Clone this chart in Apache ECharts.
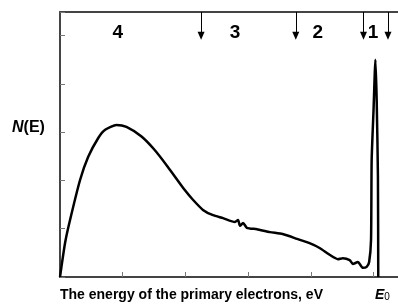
<!DOCTYPE html>
<html>
<head>
<meta charset="utf-8">
<script src="https://cdn.jsdelivr.net/npm/echarts@6/dist/echarts.min.js"></script>
<style>
  html, body { margin: 0; padding: 0; background: #fff; }
  #chart { width: 398px; height: 305px; }
</style>
</head>
<body>
<div id="chart"></div>
<script>
// energy (arbitrary units, tick = 100) and N(E)
var energy = [0, 8, 16, 32, 45, 61, 72, 90, 106, 130, 151, 172, 199, 212, 228, 244, 260, 279, 284, 287, 292, 298, 314, 335, 355, 378, 398, 414, 430, 443, 451, 462, 467, 475, 483, 489, 493, 496, 497, 500, 503, 505, 507, 507.5];
var counts = [0, 0.70, 1.18, 2.01, 2.49, 2.88, 3.05, 3.15, 3.11, 2.91, 2.63, 2.28, 1.80, 1.60, 1.39, 1.28, 1.22, 1.14, 1.18, 1.06, 1.12, 1.02, 0.99, 0.93, 0.89, 0.79, 0.70, 0.60, 0.46, 0.37, 0.39, 0.35, 0.27, 0.31, 0.19, 0.21, 0.31, 0.77, 2.42, 3.46, 4.50, 3.67, 2.08, 0];

// region boundaries (arrows from the top edge) and region labels
var arrowAt = [225, 376, 484, 523];
var regionNames = ['4', '3', '2', '1'];
var regionX = [92, 279, 411, 499];

var myChart = echarts.init(document.getElementById('chart'));

var curve = energy.map(function (e, i) { return [e, counts[i]]; });
var arrows = arrowAt.map(function (x) {
    return [{coord: [x, 5.49]}, {coord: [x, 5.0]}];
});
var labels = regionX.map(function (x, i) {
    return {value: [x, 5.07], name: regionNames[i]};
});

option = {
    backgroundColor: '#fff',
    animation: false,
    grid: {left: 60, right: 0, top: 12, bottom: 28},
    xAxis: [
        {
            type: 'value', min: 0, max: 539, interval: 100,
            axisLine: {lineStyle: {color: '#444', width: 2}},
            axisTick: {inside: true, length: 5, lineStyle: {color: '#777'}},
            axisLabel: {show: false},
            splitLine: {show: false}
        },
        {
            type: 'value', position: 'top', min: 0, max: 539,
            axisLine: {show: true, lineStyle: {color: '#444', width: 2}},
            axisTick: {show: false},
            axisLabel: {show: false},
            splitLine: {show: false}
        }
    ],
    yAxis: {
        type: 'value', min: 0, max: 5.49, interval: 1,
        axisLine: {show: true, lineStyle: {color: '#444', width: 2}},
        axisTick: {show: true, inside: true, length: 5, lineStyle: {color: '#777'}},
        axisLabel: {show: false},
        splitLine: {show: false}
    },
    series: [
        {
            type: 'line',
            data: curve,
            smooth: 0.2,
            showSymbol: false,
            lineStyle: {color: '#000', width: 2.5},
            markLine: {
                silent: true,
                symbol: ['none', 'triangle'],
                symbolSize: [7, 8],
                label: {show: false},
                lineStyle: {color: '#000', width: 1, type: 'solid'},
                data: arrows
            }
        },
        {
            type: 'scatter',
            data: labels,
            symbolSize: 0,
            silent: true,
            itemStyle: {opacity: 1},
            label: {
                show: true,
                position: 'inside',
                formatter: '{b}',
                color: '#000',
                textBorderWidth: 0,
                fontSize: 19,
                fontWeight: 900,
                fontFamily: 'Liberation Sans'
            }
        }
    ],
    graphic: [
        {
            type: 'text', left: 12, top: 120,
            style: {
                text: '{i|N}{b|(E)}',
                rich: {
                    i: {fontSize: 16, fontWeight: 'bold', fontStyle: 'italic', fontFamily: 'Liberation Sans', fill: '#000'},
                    b: {fontSize: 16, fontWeight: 'bold', fontFamily: 'Liberation Sans', fill: '#000'}
                }
            }
        },
        {
            type: 'text', left: 60, top: 288,
            style: {
                text: 'The energy of the primary electrons, eV',
                fontSize: 14, fontWeight: 'bold', fontFamily: 'Liberation Sans', fill: '#000'
            }
        },
        {
            type: 'text', left: 375, top: 288,
            style: {
                text: '{e|E}{s|0}',
                rich: {
                    e: {fontSize: 14, fontWeight: 'bold', fontStyle: 'italic', fontFamily: 'Liberation Sans', fill: '#000'},
                    s: {fontSize: 10, fontFamily: 'Liberation Sans', fill: '#000', verticalAlign: 'bottom', padding: [4, 0, 0, 0]}
                }
            }
        }
    ]
};

myChart.setOption(option);
</script>
</body>
</html>
